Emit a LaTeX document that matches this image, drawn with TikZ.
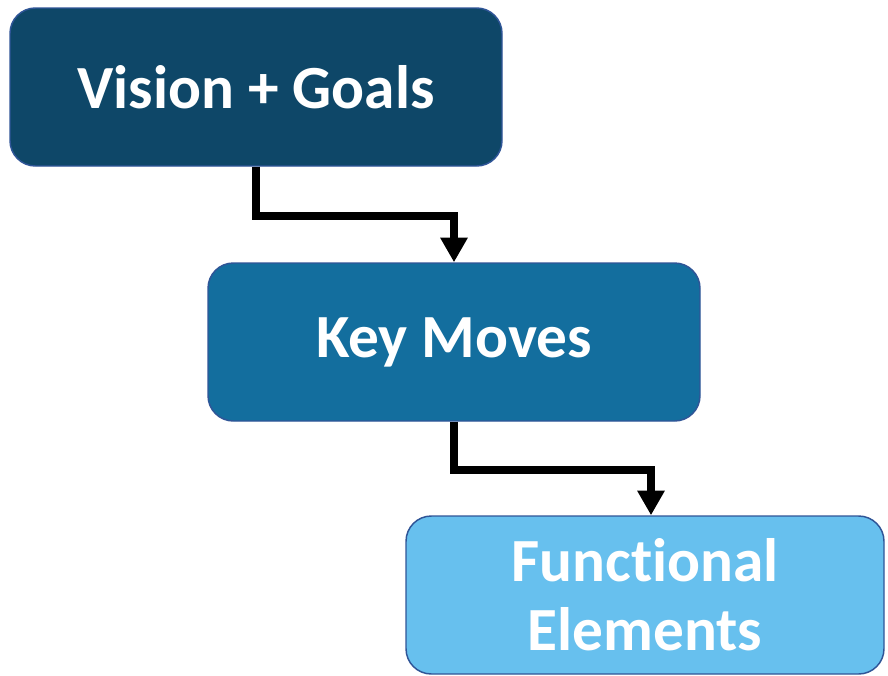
\documentclass[tikz,border=0pt]{standalone}
\usepackage{fontspec}
\setmainfont[Ligatures=NoCommon]{Carlito}
\usepackage{xcolor}
\usepackage{tikz}
\usetikzlibrary{positioning, arrows.meta}
\definecolor{visioncolor}{RGB}{14, 71, 104}
\definecolor{movescolor}{RGB}{19, 110, 158}
\definecolor{elemcolor}{RGB}{103, 192, 238}
\definecolor{edgecolor}{RGB}{47, 85, 151}

\begin{document}
\begin{tikzpicture}[
			x=0.75pt, y=-0.75pt,
			stage/.style={rounded corners=19pt, draw=edgecolor, line width=1.1pt, text=white, font=\bfseries\fontsize{46}{52}\selectfont, align=center, inner sep=0pt, minimum height=118.5pt},
			flow/.style={line width=6pt, line join=miter, -{Triangle[length=18.5pt, width=19.5pt]}},
		]

		\useasboundingbox (0,0) rectangle (888,675);

		\node[stage, fill=visioncolor, minimum width=369pt] (vision) at (256,87)  {Vision + Goals};
		\node[stage, fill=movescolor, minimum width=369pt]  (moves)  at (454,342) {Key Moves};
		\node[stage, fill=elemcolor, minimum width=358.5pt] (elems)  at (645,595) {Functional\\Elements};

		\draw[flow] (vision.south) -- ++(0,49) -| (moves.north);
		\draw[flow] (moves.south -| 454,0) -- ++(0,48) -| ([xshift=4.5pt]elems.north);

		\end{tikzpicture}
\end{document}
